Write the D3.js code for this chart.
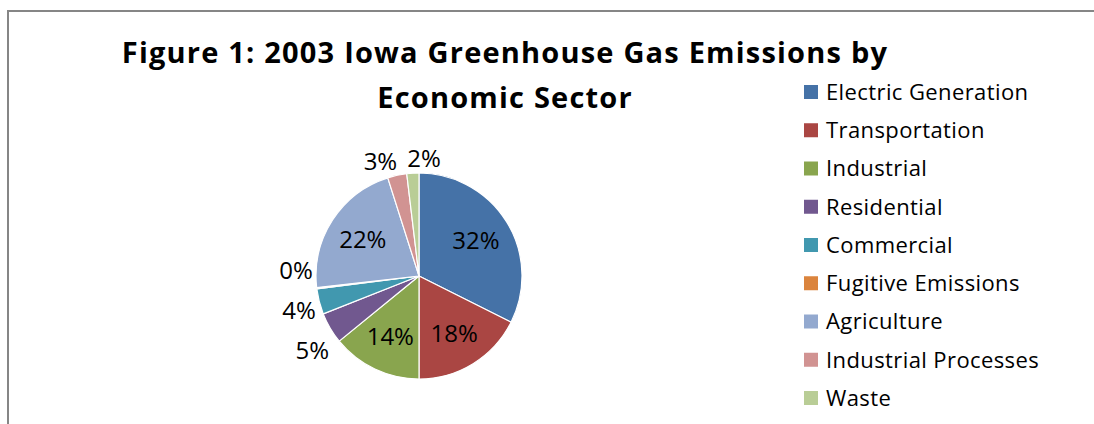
<!DOCTYPE html>
<html>
<head>
<meta charset="utf-8">
<script src="https://cdn.jsdelivr.net/npm/d3@7"></script>
<style>
  html, body { margin: 0; padding: 0; background: #fff; }
  svg { display: block; }
  text { font-family: "Open Sans", Lato, sans-serif; fill: #000; font-variant-ligatures: none; }
</style>
</head>
<body>
<svg id="chart" width="1094" height="424"></svg>
<script>
// 2003 Iowa greenhouse gas emissions, share of total by economic sector (%)
const sectors = [
  "Electric Generation", "Transportation", "Industrial", "Residential",
  "Commercial", "Fugitive Emissions", "Agriculture", "Industrial Processes", "Waste"
];
const shares = [32.4, 17.6, 14.1, 4.9, 4.0, 0.2, 21.9, 3.0, 1.9];
const colors = [
  "#4572A7", "#AA4643", "#89A54E", "#71588F", "#4198AF",
  "#DB843D", "#93A9CF", "#D19392", "#B9CD96"
];
const titleLines = ["Figure 1: 2003 Iowa Greenhouse Gas Emissions by", "Economic Sector"];

const svg = d3.select("#chart");
const W = 1094, H = 424;

// chart frame (runs off the right and bottom edges)
svg.append("rect")
  .attr("x", 8).attr("y", 11)
  .attr("width", W + 20).attr("height", H + 20)
  .attr("fill", "#fff")
  .attr("stroke", "#868686")
  .attr("stroke-width", 2);

// title
const title = svg.append("g").attr("class", "title");
title.selectAll("text")
  .data(titleLines)
  .join("text")
  .attr("x", 505)
  .attr("y", (d, i) => 63 + i * 45)
  .attr("text-anchor", "middle")
  .attr("font-size", 29)
  .attr("font-weight", "bold")
  .attr("letter-spacing", 1.2)
  .text(d => d);

// pie
const cx = 419, cy = 276, r = 103;
const total = d3.sum(shares);
const color = d3.scaleOrdinal().domain(sectors).range(colors);
const pie = d3.pie().sort(null).value(d => d.value);
const arcs = pie(sectors.map((s, i) => ({ sector: s, value: shares[i] })));
const arc = d3.arc().innerRadius(0).outerRadius(r);

const g = svg.append("g").attr("transform", `translate(${cx},${cy})`);
g.selectAll("path.slice")
  .data(arcs)
  .join("path")
  .attr("class", "slice")
  .attr("d", arc)
  .attr("fill", d => color(d.data.sector))
  .attr("stroke", "#fff")
  .attr("stroke-width", 1.2)
  .attr("stroke-linejoin", "round");

// data labels: inside for large slices, outside end for small ones
const fmt = d3.format(".0%");
const labelSize = 24;
const insideArc = d3.arc().innerRadius(r * 0.65).outerRadius(r * 0.65);
const labels = g.selectAll("text.lbl")
  .data(arcs)
  .join("text")
  .attr("class", "lbl")
  .attr("font-size", labelSize)
  .attr("text-anchor", "middle")
  .attr("dy", "0.36em")
  .text(d => fmt(d.data.value / total));

const boxes = [];
labels.each(function (d) {
  const bb = this.getBBox();
  const w = bb.width, h = labelSize * 0.9;
  const a = (d.startAngle + d.endAngle) / 2;
  const share = d.data.value / total;
  if (share >= 0.08) {
    const [x, y] = insideArc.centroid(d);
    d3.select(this).attr("x", x).attr("y", y);
  } else {
    const gap = 4;
    const sx = Math.sin(a), sy = -Math.cos(a);
    const x = (r + gap) * sx + sx * w / 2;
    const y = (r + gap) * sy + sy * h / 2;
    boxes.push({ node: this, x, y, w, h });
  }
});

// push overlapping outside labels apart
const padX = 10, padY = 18;
for (let it = 0; it < 300; it++) {
  let moved = false;
  for (let i = 0; i < boxes.length; i++) {
    for (let j = i + 1; j < boxes.length; j++) {
      const A = boxes[i], B = boxes[j];
      const dx = B.x - A.x, dy = B.y - A.y;
      const ox = (A.w + B.w) / 2 + padX - Math.abs(dx);
      const oy = (A.h + B.h) / 2 + padY - Math.abs(dy);
      if (ox > 0.01 && oy > 0.01) {
        moved = true;
        if (ox < oy) {
          const s = (dx >= 0 ? 1 : -1) * ox / 2 * 0.5;
          A.x -= s; B.x += s;
        } else {
          const s = (dy >= 0 ? 1 : -1) * oy / 2 * 0.5;
          A.y -= s; B.y += s;
        }
      }
    }
  }
  if (!moved) break;
}
boxes.forEach(b => d3.select(b.node).attr("x", b.x).attr("y", b.y));

// legend
const legend = svg.append("g").attr("transform", "translate(804,92)");
const rows = legend.selectAll("g")
  .data(sectors)
  .join("g")
  .attr("transform", (d, i) => `translate(0,${i * 38.25})`);
rows.append("rect")
  .attr("x", 0).attr("y", -7)
  .attr("width", 14).attr("height", 14)
  .attr("fill", d => color(d));
rows.append("text")
  .attr("x", 22)
  .attr("dy", "0.36em")
  .attr("font-size", 22)
  .attr("letter-spacing", 0.4)
  .text(d => d);
</script>
</body>
</html>
